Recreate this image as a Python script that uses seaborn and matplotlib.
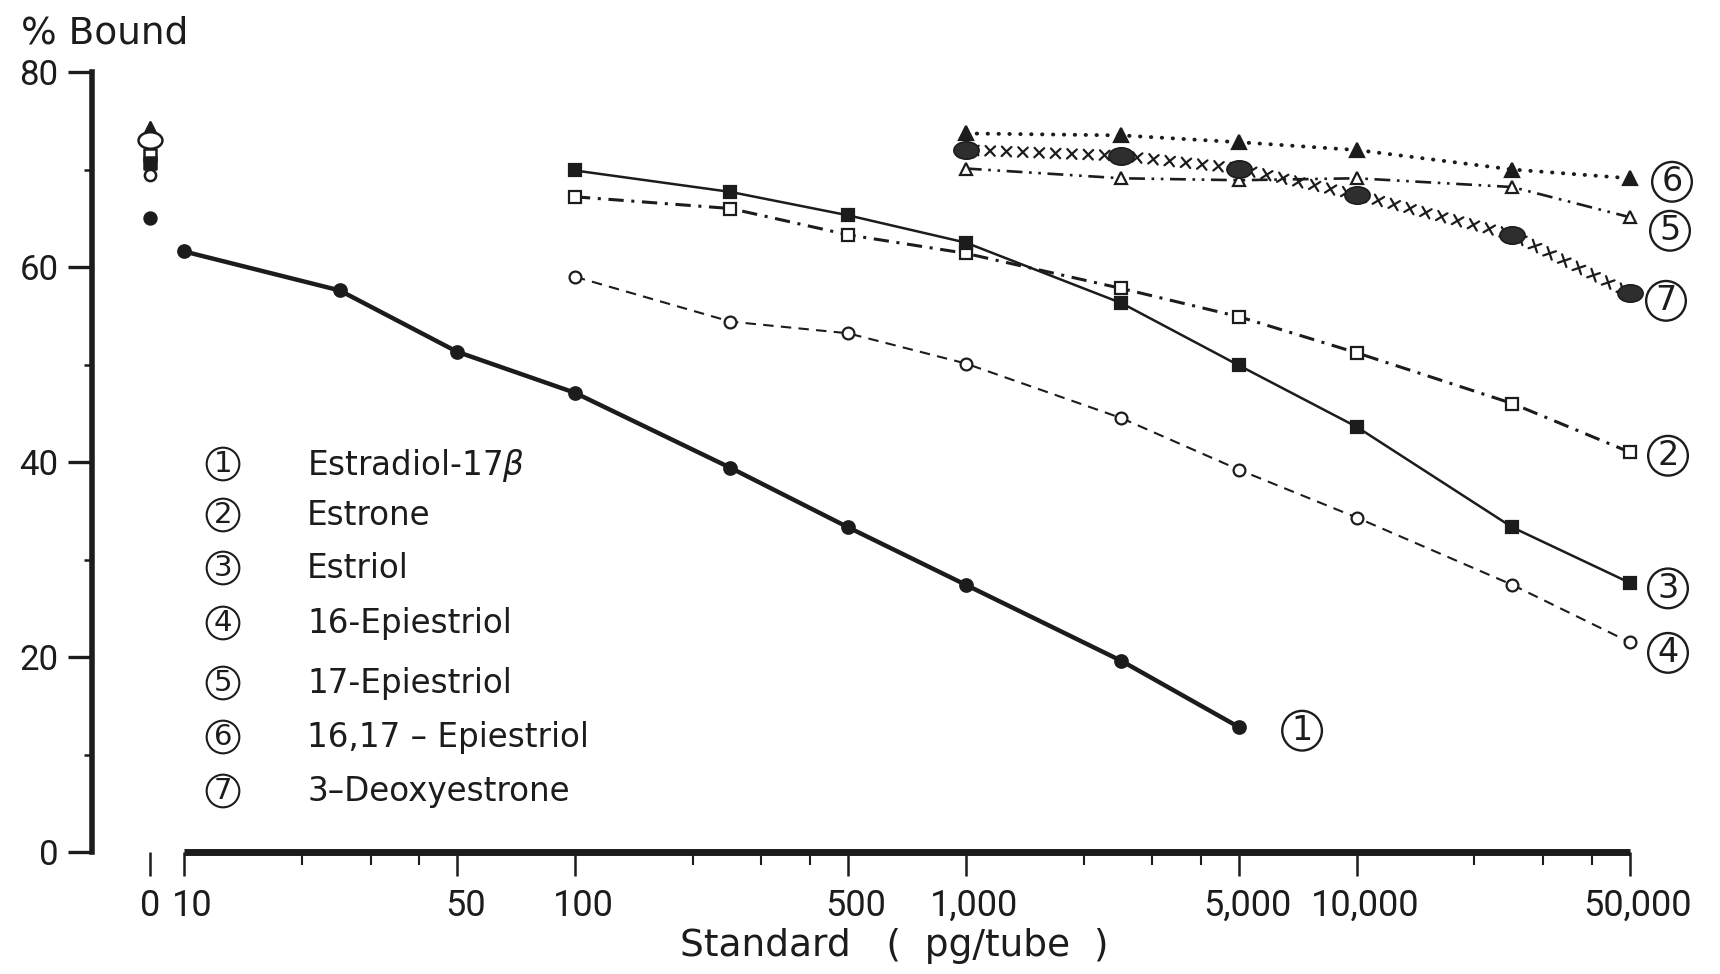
import numpy as np
import pandas as pd
import matplotlib
matplotlib.use("Agg")
import matplotlib.pyplot as plt
import matplotlib.patheffects as pe
from matplotlib.markers import MarkerStyle
from matplotlib.transforms import Affine2D, ScaledTranslation
from matplotlib.ticker import FixedLocator, NullFormatter, FixedFormatter
import seaborn as sns

# ---------------- data ----------------
x_low = [10, 25, 50, 100, 250, 500, 1000, 2500, 5000]
x_mid = [100, 250, 500, 1000, 2500, 5000, 10000, 25000, 50000]
x_high = [1000, 2500, 5000, 10000, 25000, 50000]

estradiol = [61.6, 57.6, 51.3, 47.1, 39.4, 33.3, 27.4, 19.6, 12.8]
estrone = [67.2, 66.0, 63.3, 61.4, 57.8, 54.9, 51.2, 46.0, 41.0]
estriol = [69.9, 67.7, 65.3, 62.5, 56.3, 49.9, 43.6, 33.3, 27.6]
epi16 = [59.0, 54.4, 53.2, 50.1, 44.5, 39.2, 34.3, 27.4, 21.5]
epi17 = [70.1, 69.1, 68.9, 69.1, 68.2, 65.1]
epi1617 = [73.7, 73.5, 72.8, 72.0, 70.0, 69.1]
deoxy = [72.0, 71.4, 70.1, 67.4, 63.3, 57.3]

# values at 0 pg/tube
zero_vals = {"1": 65.0, "2": 71.5, "3": 70.7, "4": 69.4, "5": 74.0, "6": 74.3, "7": 73.0}

legend_names = ["Estradiol-17$\\beta$", "Estrone", "Estriol", "16-Epiestriol",
                "17-Epiestriol", "16,17 \u2013 Epiestriol", "3\u2013Deoxyestrone"]
x_tick_vals = [10, 50, 100, 500, 1000, 5000, 10000, 50000]
x_tick_labels = ["10", "50", "100", "500", "1,000", "5,000", "10,000", "50,000"]
y_tick_vals = [0, 20, 40, 60, 80]

# ---------------- style ----------------
sns.set_theme(style="white")
plt.rcParams["font.family"] = ["DejaVu Sans"]
INK = "#1c1c1c"
plt.rcParams["text.color"] = INK
plt.rcParams["axes.edgecolor"] = INK
plt.rcParams["xtick.color"] = INK
plt.rcParams["ytick.color"] = INK
TICKFONT = "Roboto"

W, H = 1720, 974
fig = plt.figure(figsize=(W / 100, H / 100), dpi=100)
fig.patch.set_facecolor("white")

def fx(px):
    return px / W

def fy(py):
    return 1 - py / H

# main (log) axes geometry: x=10 at px 184, x=50000 at px 1630 ; y=0 at 852, y=80 at 72
dec = (1630 - 184) / np.log10(5000)
lo, hi = 0.92, 4.78
left_px = 184 - (1 - lo) * dec
right_px = 1630 + (hi - np.log10(50000)) * dec
ax = fig.add_axes([fx(left_px), fy(852), fx(right_px - left_px), (852 - 72) / H])
ax.patch.set_alpha(0)
ax.set_xscale("log")
ax.set_xlim(10 ** lo, 10 ** hi)
ax.set_ylim(0, 80)

# zero column axes (holds the y axis)
az = fig.add_axes([fx(92), fy(852), fx(80), (852 - 72) / H])
az.patch.set_alpha(0)
az.set_xlim(-0.725, 0.275)
az.set_ylim(0, 80)

# ---------------- series ----------------
ellipse = MarkerStyle("o", transform=Affine2D().scale(1.45, 1.0))

series = [
    dict(key="1", x=x_low, y=estradiol, lw=3.2, ls="-", marker="o", ms=9, mfc=INK, zfc=INK),
    dict(key="2", x=x_mid, y=estrone, lw=2.2, ls=(0, (5, 2.5, 1, 2.5)), marker="s", ms=8.5, mfc="white", zfc="white"),
    dict(key="3", x=x_mid, y=estriol, lw=1.8, ls="-", marker="s", ms=8.5, mfc=INK, zfc=INK),
    dict(key="4", x=x_mid, y=epi16, lw=1.5, ls=(0, (5, 3.5)), marker="o", ms=8.5, mfc="white", zfc="white"),
    dict(key="5", x=x_high, y=epi17, lw=1.9, ls=(0, (6, 2.5, 1, 2.5, 1, 2.5)), marker="^", ms=9, mfc="white", zfc="white"),
    dict(key="6", x=x_high, y=epi1617, lw=2.8, ls=(0, (0.1, 2.7)), marker="^", ms=9.5, mfc=INK, zfc=INK),
    dict(key="7", x=x_high, y=deoxy, lw=1.6, ls="xline", marker=ellipse, ms=12.5, mfc="#2e2e2e", zfc="white"),
]

for s in series:
    df = pd.DataFrame({"std": s["x"], "bound": s["y"]})
    if s["ls"] == "xline":
        sns.lineplot(data=df, x="std", y="bound", ax=ax, color=INK, lw=s["lw"], sort=False)
        ln = ax.lines[-1]
        ticks = [pe.TickedStroke(spacing=11.5, angle=a, length=0.42, linewidth=1.6)
                 for a in (45, -135, 135, -45)]
        ln.set_path_effects(ticks)
        sns.lineplot(data=df, x="std", y="bound", ax=ax, color=INK, lw=0, sort=False,
                     marker=s["marker"], markersize=s["ms"], markerfacecolor=s["mfc"],
                     markeredgecolor=INK, markeredgewidth=1.2)
        ax.lines[-1].set_clip_on(False)
    else:
        sns.lineplot(data=df, x="std", y="bound", ax=ax, color=INK, lw=s["lw"], sort=False,
                     linestyle=s["ls"], marker=s["marker"], markersize=s["ms"],
                     markerfacecolor=s["mfc"], markeredgecolor=INK, markeredgewidth=1.6)
        ln = ax.lines[-1]
        ln.set_clip_on(False)
        if s["key"] == "6":
            ln.set_dash_capstyle("round")
    # value at zero standard
    zdf = pd.DataFrame({"std": [0], "bound": [zero_vals[s["key"]]]})
    sns.scatterplot(data=zdf, x="std", y="bound", ax=az, color=s["zfc"], edgecolor=INK,
                    linewidth=1.8, marker=s["marker"], s=(s["ms"] * 0.95) ** 2, zorder=3)

# circled curve labels at the right end of each curve
label_offsets = {"1": (63, 0), "2": (38, 0), "3": (38, -2), "4": (38, -7),
                 "5": (40, -10), "6": (42, 0), "7": (36, -4)}
for s in series:
    dx, dy = label_offsets[s["key"]]
    ax.annotate(s["key"], xy=(s["x"][-1], s["y"][-1]), xytext=(dx, dy),
                textcoords="offset pixels", ha="center", va="center_baseline",
                fontsize=24, color=INK, annotation_clip=False,
                bbox=dict(boxstyle="circle,pad=0.1", fc="none", ec=INK, lw=1.7))

# ---------------- axes styling ----------------
for a in (ax, az):
    for side in ("top", "right"):
        a.spines[side].set_visible(False)
    a.set_xlabel("")
    a.set_ylabel("")

# main axes: bottom spine from 10 to 50000
ax.spines["left"].set_visible(False)
ax.spines["bottom"].set_linewidth(5)
ax.spines["bottom"].set_bounds(10, 50000)
ax.spines["bottom"].set_capstyle("butt")
ax.xaxis.set_major_locator(FixedLocator(x_tick_vals))
ax.xaxis.set_major_formatter(FixedFormatter(x_tick_labels))
minor = [m * 10 ** e for e in range(1, 5) for m in (2, 3, 4)]
ax.xaxis.set_minor_locator(FixedLocator(minor))
ax.xaxis.set_minor_formatter(NullFormatter())
ax.tick_params(axis="x", which="major", direction="out", length=17, width=1.8,
               pad=9, labelsize=26, bottom=True)
ax.tick_params(axis="x", which="minor", direction="out", length=9, width=1.5, bottom=True)
ax.tick_params(axis="y", left=False, labelleft=False)
shift = ScaledTranslation(0.08, 0, fig.dpi_scale_trans)
for t in ax.get_xticklabels():
    t.set_fontfamily(TICKFONT)
    t.set_transform(t.get_transform() + shift)

# zero axes: y spine + '0' tick
az.spines["bottom"].set_visible(False)
az.spines["left"].set_linewidth(4)
az.spines["left"].set_bounds(0, 80)
az.set_xticks([0])
az.set_xticklabels(["0"])
az.tick_params(axis="x", which="major", direction="out", length=17, width=1.8,
               pad=9, labelsize=26, bottom=True)
az.set_yticks(y_tick_vals)
az.set_yticklabels([str(v) for v in y_tick_vals])
az.set_yticks([10, 30, 50, 70], minor=True)
az.tick_params(axis="y", which="major", direction="out", length=17, width=2.4,
               pad=7, labelsize=25, left=True)
az.tick_params(axis="y", which="minor", direction="out", length=6, width=1.8, left=True)
for t in az.get_xticklabels() + az.get_yticklabels():
    t.set_fontfamily(TICKFONT)
az.set_xlabel("")
az.set_ylabel("")

# ---------------- titles ----------------
fig.text(fx(21), fy(43), "% Bound", fontsize=27, ha="left", va="baseline", color=INK)
fig.text(fx(894), fy(946), "Standard   (  pg/tube  )", fontsize=27, ha="center",
         va="center", color=INK)

# ---------------- legend (circled numbers + names) ----------------
rows_px = [461, 512, 565, 620, 680, 734, 788]
for i, (name, ypx) in enumerate(zip(legend_names, rows_px)):
    fig.text(fx(223), fy(ypx), str(i + 1), fontsize=21, ha="center", va="center_baseline",
             color=INK, bbox=dict(boxstyle="circle,pad=0.08", fc="none", ec=INK, lw=1.5))
    fig.text(fx(307), fy(ypx), name, fontsize=23.5, ha="left", va="center_baseline", color=INK)

fig.savefig("out.png", dpi=100, facecolor="white")
